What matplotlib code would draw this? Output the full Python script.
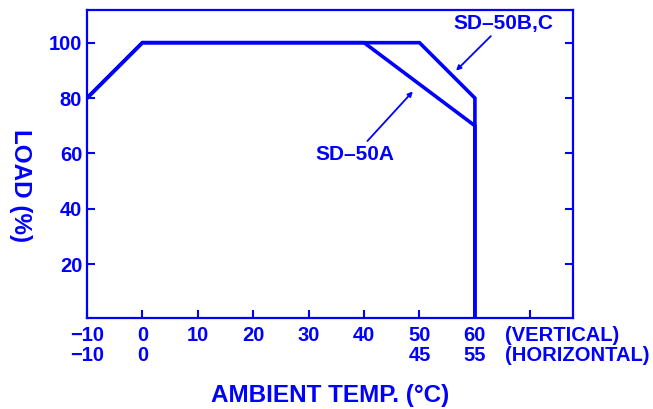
import matplotlib
matplotlib.use("Agg")
import matplotlib.pyplot as plt

BLUE = "#0000FF"
FONT = "Liberation Sans"

# derating curves (ambient temp, load %)
temp_bc = [-10, 0, 50, 60, 60]
load_bc = [80, 100, 100, 80, 0]
temp_a = [-10, 0, 40, 60, 60]
load_a = [80, 100, 100, 70, 0]

x_ticks = [-10, 0, 10, 20, 30, 40, 50, 60, 70]
x_labels_vertical = ["−10", "0", "10", "20", "30", "40", "50", "60", ""]
x_labels_horizontal = ["−10", "0", "", "", "", "", "45", "55", ""]
y_ticks = [20, 40, 60, 80, 100]

plt.rcParams["font.family"] = [FONT, "DejaVu Sans"]
plt.rcParams["font.weight"] = "bold"

fig = plt.figure(figsize=(6.53, 4.09), dpi=100)
ax = fig.add_axes([87 / 653, 91 / 409, 486 / 653, 308 / 409])

ax.plot(temp_bc, load_bc, color=BLUE, lw=2.6, solid_joinstyle="miter")
ax.plot(temp_a, load_a, color=BLUE, lw=2.6, solid_joinstyle="miter")

ax.set_xlim(-10, 77.7)
ax.set_ylim(0.6, 111.8)

for s in ax.spines.values():
    s.set_color(BLUE)
    s.set_linewidth(1.6)

ax.set_yticks(y_ticks)
ax.set_yticklabels([str(v) for v in y_ticks])
ax.set_xticks(x_ticks)
ax.set_xticklabels([])
ax.tick_params(axis="y", direction="in", length=6, width=1.5, color=BLUE,
               labelcolor=BLUE, labelsize=14.5, pad=3.5, right=True)
ax.tick_params(axis="x", direction="in", length=5.5, width=1.5, color=BLUE)

# two rows of x tick labels
for xv, l1, l2 in zip(x_ticks, x_labels_vertical, x_labels_horizontal):
    ax.annotate(l1, xy=(xv, 0), xycoords=("data", "axes fraction"),
                xytext=(0, -12.5), textcoords="offset points",
                ha="center", va="center", fontsize=14.5, color=BLUE)
    ax.annotate(l2, xy=(xv, 0), xycoords=("data", "axes fraction"),
                xytext=(0, -27), textcoords="offset points",
                ha="center", va="center", fontsize=14.5, color=BLUE)
ax.annotate("(VERTICAL)", xy=(60, 0), xycoords=("data", "axes fraction"),
            xytext=(22, -12.5), textcoords="offset points",
            ha="left", va="center", fontsize=14.5, color=BLUE)
ax.annotate("(HORIZONTAL)", xy=(60, 0), xycoords=("data", "axes fraction"),
            xytext=(22, -27), textcoords="offset points",
            ha="left", va="center", fontsize=14.5, color=BLUE)

fig.text(330 / 653, (409 - 395.5) / 409, "AMBIENT TEMP. (°C)", ha="center",
         va="center", fontsize=17.5, color=BLUE)
fig.text(20 / 653, (409 - 186) / 409, "LOAD (%)", ha="center", va="center",
         rotation=-90, fontsize=17.5, color=BLUE)

# callouts
ax.annotate("SD–50B,C", xy=(56.6, 89.9), xytext=(65.1, 106.8),
            ha="center", va="center", fontsize=15, color=BLUE,
            arrowprops=dict(arrowstyle="-|>", color=BLUE, lw=1.3,
                            mutation_scale=7, shrinkA=0, shrinkB=0))
ax.annotate("SD–50A", xy=(48.8, 82.4), xytext=(38.4, 59.7),
            ha="center", va="center", fontsize=15, color=BLUE,
            arrowprops=dict(arrowstyle="-|>", color=BLUE, lw=1.3,
                            mutation_scale=7, shrinkA=1, shrinkB=0))

fig.savefig("out.png", dpi=100, facecolor="white")
